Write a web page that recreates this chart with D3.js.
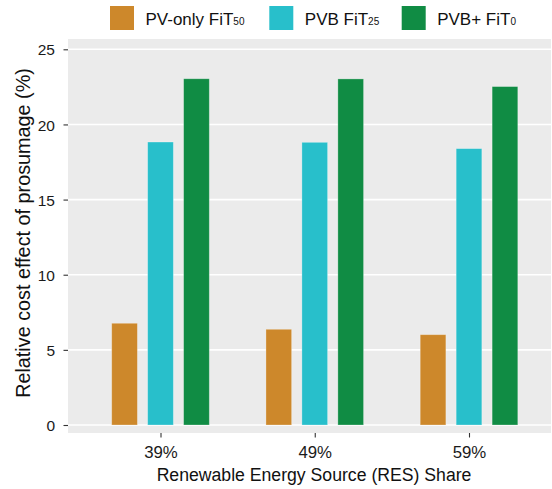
<!DOCTYPE html>
<html><head><meta charset="utf-8">
<script src="https://cdn.jsdelivr.net/npm/d3@7"></script>
<style>body{margin:0;background:#fff}svg{display:block}text{font-family:"Liberation Sans",Arial,sans-serif}</style>
</head><body>
<script>
const categories = ["39%", "49%", "59%"];
const seriesNames = ["PV-only FiT", "PVB FiT", "PVB+ FiT"];
const seriesSubs = ["50", "25", "0"];
const pvOnly = [6.77, 6.37, 6.01];
const pvb = [18.83, 18.81, 18.39];
const pvbPlus = [23.04, 23.03, 22.52];
const yTicks = [0, 5, 10, 15, 20, 25];
const colors = ["#CD882B", "#28BFCB", "#108C44"];
const series = [pvOnly, pvb, pvbPlus];

const W = 552, H = 489;
const FONT = "Liberation Sans, Arial, sans-serif";
const svg = d3.select("body").append("svg").attr("width", W).attr("height", H);
const pL = 68, pR = 551, pT = 39, pB = 433;
const y = d3.scaleLinear().domain([0, 25]).range([425, 49.3]);
const x0 = d3.scalePoint().domain(categories).range([160.5, 469]);
const xs = d3.scaleBand().domain(d3.range(3)).range([-48.8, 48.8]).paddingInner(0.286).paddingOuter(0);

function fit(sel, target) {
  const len = sel.node().getComputedTextLength();
  const fs = parseFloat(sel.attr("font-size"));
  sel.attr("font-size", fs * target / len);
}

svg.append("rect").attr("x", pL).attr("y", pT).attr("width", pR - pL).attr("height", pB - pT).attr("fill", "#EBEBEB");
svg.append("g").selectAll("line").data(yTicks).join("line")
  .attr("x1", pL).attr("x2", pR).attr("y1", d => y(d)).attr("y2", d => y(d))
  .attr("stroke", "#fff").attr("stroke-width", 1.6);

series.forEach((vals, si) => {
  svg.append("g").selectAll("rect").data(vals).join("rect")
    .attr("x", (d, i) => x0(categories[i]) + xs(si))
    .attr("width", xs.bandwidth())
    .attr("y", d => y(d)).attr("height", d => y(0) - y(d))
    .attr("fill", colors[si])
    .attr("stroke", "rgba(255,255,255,0.35)").attr("stroke-width", 0.8);
});

// y axis
const ya = svg.append("g").attr("transform", `translate(${pL},0)`)
  .call(d3.axisLeft(y).tickValues(yTicks).tickSize(4.5).tickPadding(8.5));
ya.select(".domain").remove();
ya.selectAll("line").attr("stroke", "#333").attr("stroke-width", 1.1);
ya.selectAll("text").attr("font-size", 15.5).attr("fill", "#1a1a1a").attr("font-family", FONT).attr("dy", "0.36em");

// x axis
const xa = svg.append("g").attr("transform", `translate(0,${pB})`)
  .call(d3.axisBottom(x0).tickSize(4.5).tickPadding(0));
xa.select(".domain").remove();
xa.selectAll("line").attr("stroke", "#333").attr("stroke-width", 1.1);
xa.selectAll("text").attr("font-size", 16.8).attr("fill", "#1a1a1a").attr("font-family", FONT)
  .attr("y", 24.5).attr("dy", 0);

const xt = svg.append("text").attr("x", 314).attr("y", 481).attr("text-anchor", "middle")
  .attr("font-size", 17).attr("fill", "#111").text("Renewable Energy Source (RES) Share");
fit(xt, 315);
const yt = svg.append("text").attr("transform", `translate(30,${233}) rotate(-90)`).attr("text-anchor", "middle")
  .attr("font-size", 18).attr("fill", "#111").text("Relative cost effect of prosumage (%)");
fit(yt, 330);

// legend
const legX = [110, 269.3, 401.7];
seriesNames.forEach((n, i) => {
  svg.append("rect").attr("x", legX[i]).attr("y", 6).attr("width", 24).attr("height", 24).attr("fill", colors[i]);
  const t = svg.append("text").attr("x", legX[i] + 35.5).attr("y", 24.5).attr("font-size", 17).attr("fill", "#111");
  t.append("tspan").text(n);
  t.append("tspan").attr("font-size", 10).attr("dy", 0.5).text(seriesSubs[i]);
});
</script>
</body></html>
